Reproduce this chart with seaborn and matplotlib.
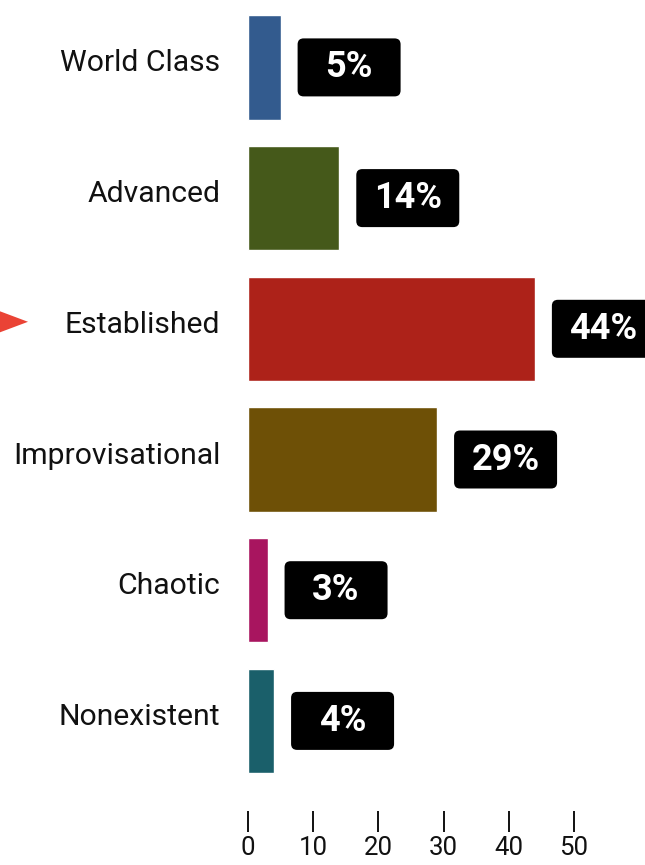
import matplotlib
matplotlib.use("Agg")
import matplotlib.pyplot as plt
from matplotlib.patches import FancyBboxPatch, Polygon
from matplotlib.transforms import ScaledTranslation
import numpy as np
import pandas as pd
import seaborn as sns

# Maturity levels and the share of respondents at each level (%)
categories = ["World Class", "Advanced", "Established", "Improvisational", "Chaotic", "Nonexistent"]
shares = [5, 14, 44, 29, 3, 4]
bar_colors = ["#335B8E", "#45591A", "#AD2219", "#6E5006", "#A8155F", "#1A5F6A"]
x_ticks = [0, 10, 20, 30, 40, 50]
highlight = "Established"

sns.set_theme(style="white")
plt.rcParams["font.family"] = ["Roboto", "DejaVu Sans"]

df = pd.DataFrame({"category": categories, "share": shares})

W, H, DPI = 645, 865, 100
fig = plt.figure(figsize=(W / DPI, H / DPI), dpi=DPI)
fig.patch.set_facecolor("white")

# axes geometry in pixels
px_x = 6.52          # pixels per percentage point
pitch = 130.7        # pixels per category row
ax_left, ax_top = 248, 2.05
y_lo, y_hi = -0.5, 5.69
x_max = 60
ax_w = x_max * px_x
ax_h = (y_hi - y_lo) * pitch
ax = fig.add_axes([ax_left / W, 1 - (ax_top + ax_h) / H, ax_w / W, ax_h / H])

sns.barplot(data=df, x="share", y="category", hue="category", palette=bar_colors,
            legend=False, width=0.8, saturation=1, ax=ax)

ax.set_xlim(0, x_max)
ax.set_ylim(y_hi, y_lo)
ax.set_xlabel("")
ax.set_ylabel("")
ax.set_xticks(x_ticks)
ax.set_xticklabels([str(t) for t in x_ticks])
for s in ax.spines.values():
    s.set_visible(False)
ax.tick_params(axis="x", bottom=True, length=15, width=1.4, direction="out",
               pad=3, labelsize=18.5, colors="#111111")
ax.tick_params(axis="y", left=False, length=0, pad=20, labelsize=21.7, labelcolor="#111111")
for lab in ax.get_yticklabels():
    lab.set_transform(lab.get_transform() + ScaledTranslation(0, 7 / DPI, fig.dpi_scale_trans))

# value badges to the right of each bar
gap = 17 / px_x
bw = 103 / px_x
bh = 58 / pitch
for i, v in enumerate(shares):
    x0 = v + gap
    badge = FancyBboxPatch((x0, i - bh / 2), bw, bh,
                           boxstyle=f"round,pad=0,rounding_size={6 / px_x}",
                           mutation_aspect=px_x / pitch,
                           fc="black", ec="none", clip_on=False, zorder=3)
    ax.add_patch(badge)
    ax.text(x0 + bw / 2, i, f"{v}%", ha="center", va="center", color="white",
            fontsize=26, fontweight="bold", clip_on=False, zorder=4)

# pointer marking the highlighted level
hi = categories.index(highlight)
cy = ax_top + (hi - y_lo) * pitch - 7
tri = Polygon([(0, 1 - (cy - 10.5) / H), (28 / W, 1 - cy / H), (0, 1 - (cy + 10.5) / H)],
              closed=True, transform=fig.transFigure, fc="#EA4335", ec="none")
fig.patches.append(tri)

fig.savefig("out.png", dpi=DPI)
